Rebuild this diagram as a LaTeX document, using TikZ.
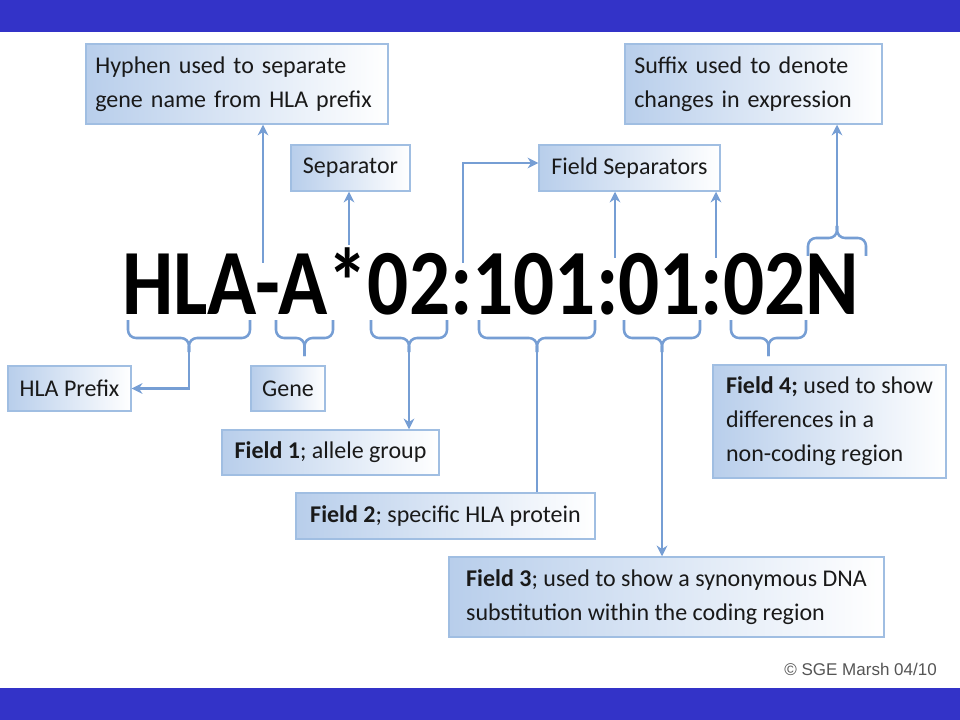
\documentclass[tikz,border=0pt]{standalone}
\usepackage{graphicx}
\usepackage{fontspec}
\setmainfont{Carlito}
\newfontfamily\arialf{Liberation Sans}
\usetikzlibrary{arrows.meta,calc}
\definecolor{barblue}{RGB}{51,51,200}
\definecolor{lnblue}{RGB}{118,158,212}
\definecolor{boxL}{RGB}{184,206,235}
\definecolor{boxline}{RGB}{160,190,226}
\definecolor{txt}{RGB}{25,25,25}
\definecolor{cpy}{RGB}{85,85,85}
\newcommand\bracedown[4]{%
  \draw[brc] (#1,#3) -- (#1,338) -- ({(#1+#2)/2},338) -- ({(#1+#2)/2},#4);
  \draw[brc] (#2,#3) -- (#2,338) -- ({(#1+#2)/2},338) -- ({(#1+#2)/2},#4);}
\begin{document}
\begin{tikzpicture}[x=0.75pt,y=-0.75pt,
  box/.style={draw=boxline,line width=1.1pt,left color=boxL,right color=white,
    inner xsep=7pt,inner ysep=0pt,font=\fontsize{18}{25.5}\selectfont,text=txt,
    execute at begin node={\hyphenpenalty=10000\exhyphenpenalty=10000}},
  conn/.style={draw=lnblue,line width=1.9pt},
  arr/.style={conn,-{Stealth[length=8pt,width=8pt]}},
  brc/.style={draw=lnblue,line width=1.9pt,rounded corners=6pt}]
\useasboundingbox (0,0) rectangle (960,720);
\fill[white] (0,0) rectangle (960,720);
\fill[barblue] (0,0) rectangle (960,32);
\fill[barblue] (0,688) rectangle (960,720);

% boxes
\node[box,align=left,text width=212.5pt,minimum height=60pt] (hyph) at (237,84)
  {Hyphen used to separate\\gene name from HLA prefix};
\node[box,minimum width=89.25pt,minimum height=34.5pt] (sep) at (350.5,168) {Separator};
\node[box,minimum width=135.75pt,minimum height=34.5pt] (fs) at (629.5,168) {Field Separators};
\node[box,align=left,text width=178.75pt,minimum height=60pt] (suf) at (753.5,84)
  {Suffix used to denote\\changes in expression};
\node[box,minimum width=92.25pt,minimum height=33.75pt] (pre) at (69.5,388.5) {HLA Prefix};
\node[box,minimum width=55.5pt,minimum height=33.75pt] (gene) at (288,388.5) {Gene};
\node[box,minimum width=162.75pt,minimum height=33.75pt] (f1) at (330.5,452.5)
  {\textbf{Field 1}; allele group};
\node[box,minimum width=224.25pt,minimum height=34.5pt] (f2) at (445.5,516)
  {\textbf{Field 2}; specific HLA protein};
\node[box,align=left,inner xsep=5pt,minimum width=326.25pt,minimum height=60pt] (f3) at (666.5,597)
  {\textbf{Field 3}; used to show a synonymous DNA\\substitution within the coding region};
\node[box,align=left,minimum width=174.75pt,minimum height=84.75pt] (f4) at (829.5,421.5)
  {\textbf{Field 4;} used to show\\differences in a\\non-coding region};

% main code
\node[anchor=base,inner sep=0pt,font=\fontsize{70}{70}\selectfont\bfseries,text=black] (code) at (490.5,315)
  {\scalebox{0.87}[1]{HLA-A*02:101:01:02N}};

% braces below
\bracedown{128}{250}{320}{352}
\bracedown{276}{333}{320}{356}
\bracedown{371}{447}{320}{352}
\bracedown{479}{595}{320}{352}
\bracedown{624}{700}{320}{352}
\bracedown{731}{806}{320}{356}
% brace above (suffix)
\draw[brc] (808,256) -- (808,238) -- (837,238) -- (837,226);
\draw[brc] (866,256) -- (866,238) -- (837,238) -- (837,226);

\coordinate (tHLA) at (189,351);
\coordinate (tF1) at (409,351);
\coordinate (tF2) at (537,351);
\coordinate (tF3) at (662,351);
\coordinate (tSuf) at (837,227);
\coordinate (hy) at (263,263);
\coordinate (st) at (349,245);
\coordinate (c1) at (463,263);
\coordinate (c2) at (615,258);
\coordinate (c3) at (716,258);

% connectors
\draw[arr] (tHLA) |- (pre.east);
\draw[arr] (tF1) -- (tF1 |- f1.north);
\draw[conn] (tF2) -- (tF2 |- f2.north);
\draw[arr] (tF3) -- (tF3 |- f3.north);
\draw[arr] (tSuf) -- (tSuf |- suf.south);
\draw[arr] (hy) -- (hy |- hyph.south);
\draw[arr] (st) -- (st |- sep.south);
\draw[arr] (c1) |- ([yshift=3.75pt]fs.west);
\draw[arr] (c2) -- (c2 |- fs.south);
\draw[arr] (c3) -- (c3 |- fs.south);

% copyright
\node[anchor=east,inner sep=0pt,font=\arialf\fontsize{12.75}{14}\selectfont,text=cpy] (copy) at (937,669)
  {\textcopyright\ SGE Marsh 04/10};
\end{tikzpicture}
\end{document}
